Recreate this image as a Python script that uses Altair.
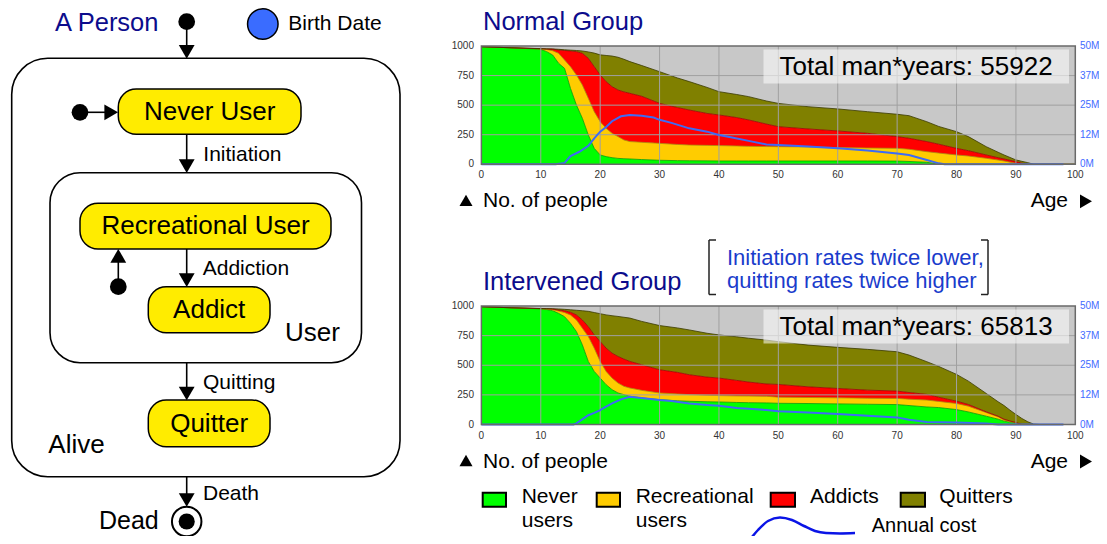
import altair as alt
import pandas as pd

OFF = 8          # page margin
W, H = 1091, 528
FONT = "Liberation Sans"

# ---------------- data ----------------
ages = [0, 5, 10, 11, 12, 13, 14, 15, 16, 17, 18, 19, 20, 21, 22, 23, 24, 25, 27, 30, 33, 35, 38, 40,
        43, 45, 48, 50, 55, 60, 65, 70, 72, 75, 77, 80, 82, 85, 87, 88, 89, 90, 91, 92, 93, 94, 100]

# Normal group: cumulative boundaries (number of people)
normal_never = [994, 985, 972, 952, 924, 854, 811, 642, 501, 389, 248, 135, 79, 65, 56, 50, 47, 45, 40, 34, 31, 30, 29, 28,
                28, 28, 28, 28, 28, 28, 28, 27, 24, 17, 0, 0, 0, 0, 0, 0, 0, 0, 0, 0, 0, 0, 0]
normal_rec_top = [994, 985, 975, 970, 960, 938, 882, 825, 755, 670, 558, 445, 360, 304, 262, 234, 206, 192, 186, 177, 168, 163, 160, 158,
                  155, 152, 150, 149, 147, 141, 138, 135, 127, 107, 95, 79, 70, 51, 36, 28, 18, 8, 0, 0, 0, 0, 0]
normal_addict_top = [994, 985, 977, 975, 974, 966, 962, 958, 952, 938, 896, 825, 755, 699, 656, 628, 612, 600, 575, 515, 480, 459, 430, 417,
                     395, 375, 340, 318, 299, 282, 262, 234, 220, 192, 170, 135, 115, 79, 56, 45, 34, 23, 10, 0, 0, 0, 0]
normal_alive = [994, 985, 978, 976, 975, 972, 968, 965, 962, 958, 950, 940, 925, 920, 915, 905, 888, 868, 835, 783, 730, 699, 650, 614,
                590, 572, 535, 515, 487, 468, 445, 423, 411, 360, 320, 276, 234, 149, 102, 79, 58, 37, 25, 14, 0, 0, 0]

# Intervened group
interv_never = [994, 985, 975, 970, 960, 938, 910, 854, 784, 672, 532, 448, 392, 336, 294, 266, 252, 238, 224, 210, 200, 196, 192, 190,
                186, 184, 182, 179, 177, 174, 171, 168, 160, 148, 143, 126, 106, 70, 45, 28, 20, 14, 0, 0, 0, 0, 0]
interv_rec_top = [994, 985, 977, 974, 968, 958, 945, 924, 882, 812, 742, 644, 532, 448, 392, 350, 322, 308, 288, 266, 258, 252, 247, 244,
                  241, 240, 238, 231, 228, 225, 222, 220, 214, 206, 195, 177, 155, 101, 65, 37, 25, 14, 0, 0, 0, 0, 0]
interv_addict_top = [994, 985, 978, 977, 975, 966, 960, 947, 924, 882, 826, 756, 700, 644, 602, 574, 552, 532, 504, 462, 440, 420, 400, 392,
                     372, 358, 342, 338, 318, 304, 290, 282, 270, 254, 230, 197, 169, 107, 70, 45, 30, 17, 0, 0, 0, 0, 0]
interv_alive = [994, 985, 979, 978, 977, 975, 972, 968, 964, 960, 955, 945, 935, 925, 918, 912, 905, 898, 870, 835, 815, 798, 770, 756,
                740, 728, 712, 699, 670, 651, 634, 614, 586, 530, 490, 423, 366, 262, 192, 160, 121, 85, 51, 23, 3, 0, 0]

# Annual cost (millions)
cost_ages_normal = [0, 12.5, 14, 15, 16.5, 18, 19, 20, 21, 22, 23.5, 25, 27, 29, 30, 32, 35, 38, 40, 42, 45, 48,
                    50, 55, 60, 65, 70, 72, 75, 77, 78, 98]
cost_normal = [0, 0, 0.6, 3.5, 5.3, 7.8, 11.0, 13.8, 15.8, 18.2, 20.3, 20.8, 20.5, 19.8, 18.8, 17.5, 15.2, 13.8, 12.4, 11.4, 9.9, 8.4,
               8.2, 7.5, 6.8, 5.8, 4.6, 3.9, 1.8, 0.4, 0, 0]
cost_ages_interv = [0, 15.5, 16, 18, 19, 20, 21, 22, 23.5, 25, 27, 30, 32, 35, 38, 40, 43, 48, 50, 55, 60, 65, 70, 72, 75,
                    80, 85, 87, 98]
cost_interv = [0, 0, 0.5, 3.9, 4.9, 6.1, 7.5, 8.9, 10.6, 11.7, 11.2, 10.3, 9.9, 8.9, 8.2, 7.9, 7.0, 6.1, 5.6, 5.1, 4.4, 3.7, 3.0, 2.0, 1.1,
               0.8, 0.4, 0, 0]

categories = ["Never users", "Recreational users", "Addicts", "Quitters"]
cat_colors = ["#00ff00", "#ffcc00", "#ff0000", "#808000"]
edge_colors = ["#00a000", "#b08a00", "#a00000", "#3a3a00"]
people_ticks = [0, 250, 500, 750, 1000]
cost_tick_labels = ["0M", "12M", "25M", "37M", "50M"]
age_ticks = [0, 10, 20, 30, 40, 50, 60, 70, 80, 90, 100]
grid_ages = [10, 20, 30, 40, 50, 60, 70, 80, 90]
grid_people = [250, 500, 750]
group_titles = ["Normal Group", "Intervened Group"]
totals = [55922, 65813]

NAVY = "#0c0c8c"
BLUE_LBL = "#3f6bff"
COST_BLUE = "#3d6bf5"


def P(v):
    return v - OFF


# ---------------- helpers ----------------
def text_layer(rows, align="left", baseline="middle"):
    df = pd.DataFrame(rows, columns=["x", "y", "text", "fs", "col"])
    df["x"] = df["x"] - OFF
    df["y"] = df["y"] - OFF
    return alt.Chart(df).mark_text(align=align, baseline=baseline, font=FONT).encode(
        x=alt.X("x:Q", scale=None, axis=None),
        y=alt.Y("y:Q", scale=None, axis=None),
        text="text:N",
        size=alt.Size("fs:Q", scale=None, legend=None),
        color=alt.Color("col:N", scale=None, legend=None),
    )


def rect_layer(rows, **mark):
    df = pd.DataFrame(rows, columns=["x", "x2", "y", "y2"]) - OFF
    return alt.Chart(df).mark_rect(**mark).encode(
        x=alt.X("x:Q", scale=None, axis=None), x2="x2:Q",
        y=alt.Y("y:Q", scale=None, axis=None), y2="y2:Q",
    )


def seg_layer(rows, color="black", width=1.6):
    df = pd.DataFrame(rows, columns=["x", "y", "x2", "y2"]) - OFF
    return alt.Chart(df).mark_rule(color=color, strokeWidth=width).encode(
        x=alt.X("x:Q", scale=None, axis=None), x2="x2:Q",
        y=alt.Y("y:Q", scale=None, axis=None), y2="y2:Q",
    )


def pt_layer(rows, shape, size, fill, stroke=None, sw=0.0):
    df = pd.DataFrame(rows, columns=["x", "y"]) - OFF
    kw = dict(shape=shape, size=size, filled=True, fill=fill, opacity=1, fillOpacity=1)
    if stroke:
        kw.update(stroke=stroke, strokeWidth=sw)
    else:
        kw.update(strokeWidth=0)
    return alt.Chart(df).mark_point(**kw).encode(
        x=alt.X("x:Q", scale=None, axis=None),
        y=alt.Y("y:Q", scale=None, axis=None),
    )


X0, X1 = 481.4, 1075.3


def xscale():
    return alt.Scale(domain=[0, 100], range=[P(X0), P(X1)], nice=False, zero=False)


def yscale(top, bot, dom=(0, 1000)):
    return alt.Scale(domain=list(dom), range=[P(bot), P(top)], nice=False, zero=False)


def panel(idx, top, bot, tops, c_ages, c_vals):
    layers = []
    one = pd.DataFrame({"a": [0]})
    # background
    layers.append(alt.Chart(one).mark_rect(fill="#c8c8c8").encode(
        x=alt.value(P(X0)), x2=alt.value(P(X1)), y=alt.value(P(top)), y2=alt.value(P(bot))))
    # stacked bands
    rows = []
    lo = [0] * len(ages)
    for cat, col, edge, t in zip(categories, cat_colors, edge_colors, tops):
        for a, l, h in zip(ages, lo, t):
            rows.append(dict(age=a, lo=l, hi=h, cat=cat, fill=col, edge=edge))
        lo = t
    bdf = pd.DataFrame(rows)
    layers.append(alt.Chart(bdf).mark_area(interpolate="linear").encode(
        x=alt.X("age:Q", scale=xscale(), axis=None),
        y=alt.Y("hi:Q", scale=yscale(top, bot), axis=None, stack=None),
        y2="lo:Q",
        color=alt.Color("fill:N", scale=None, legend=None),
        detail="cat:N",
    ))
    layers.append(alt.Chart(bdf).mark_line(strokeWidth=1, opacity=0.8).encode(
        x=alt.X("age:Q", scale=xscale(), axis=None),
        y=alt.Y("hi:Q", scale=yscale(top, bot), axis=None),
        color=alt.Color("edge:N", scale=None, legend=None),
        detail="cat:N",
    ))
    # grid
    layers.append(alt.Chart(pd.DataFrame({"age": grid_ages})).mark_rule(
        color="#a0a0a0", strokeWidth=1).encode(
        x=alt.X("age:Q", scale=xscale(), axis=None),
        y=alt.value(P(top)), y2=alt.value(P(bot))))
    layers.append(alt.Chart(pd.DataFrame({"v": grid_people})).mark_rule(
        color="#a0a0a0", strokeWidth=1).encode(
        y=alt.Y("v:Q", scale=yscale(top, bot), axis=None),
        x=alt.value(P(X0)), x2=alt.value(P(X1))))
    # cost line
    layers.append(alt.Chart(pd.DataFrame({"age": c_ages, "cost": c_vals})).mark_line(
        color=COST_BLUE, strokeWidth=2).encode(
        x=alt.X("age:Q", scale=xscale(), axis=None),
        y=alt.Y("cost:Q", scale=yscale(top, bot, (0, 50)), axis=None)))
    # border
    layers.append(alt.Chart(one).mark_rect(fill=None, stroke="#6a6a6a", strokeWidth=1.5).encode(
        x=alt.value(P(X0)), x2=alt.value(P(X1)), y=alt.value(P(top)), y2=alt.value(P(bot))))
    # total box
    layers.append(alt.Chart(one).mark_rect(fill="#ffffff", opacity=0.55).encode(
        x=alt.value(P(763.5)), x2=alt.value(P(1069)), y=alt.value(P(top + 3.5)), y2=alt.value(P(top + 37.5))))
    layers.append(alt.Chart(pd.DataFrame({"t": [f"Total man*years: {totals[idx]}"]})).mark_text(
        font=FONT, fontSize=26, color="black", align="center", baseline="middle").encode(
        text="t:N", x=alt.value(P(916)), y=alt.value(P(top + 21))))
    # tick labels
    layers.append(alt.Chart(pd.DataFrame({"v": people_ticks})).mark_text(
        font=FONT, fontSize=10, color="#333333", align="right", baseline="middle").encode(
        y=alt.Y("v:Q", scale=yscale(top, bot), axis=None), text="v:N", x=alt.value(P(474))))
    layers.append(alt.Chart(pd.DataFrame({"v": people_ticks, "lbl": cost_tick_labels})).mark_text(
        font=FONT, fontSize=10, color=BLUE_LBL, align="left", baseline="middle").encode(
        y=alt.Y("v:Q", scale=yscale(top, bot), axis=None), text="lbl:N", x=alt.value(P(1080))))
    layers.append(alt.Chart(pd.DataFrame({"age": age_ticks})).mark_text(
        font=FONT, fontSize=10, color="#333333", align="center", baseline="middle").encode(
        x=alt.X("age:Q", scale=xscale(), axis=None), text="age:N", y=alt.value(P(bot + 11))))
    # captions
    cap_y = bot + 37
    layers.append(text_layer([
        (483, top - 24, group_titles[idx], 25.5, NAVY),
        (483, cap_y, "No. of people", 21, "black"),
    ]))
    layers.append(text_layer([(1068, cap_y, "Age", 21, "black")], align="right"))
    layers.append(pt_layer([(466, cap_y - 1)], "triangle-up", 170, "black"))
    layers.append(pt_layer([(1086, cap_y)], "triangle-right", 190, "black"))
    return layers


layers = []

# ---------------- state diagram ----------------
DX = 186.7
DEAD_Y = 521.5
layers.append(rect_layer([(11.7, 400, 58.3, 476.7)], cornerRadius=36, fill="white",
                         stroke="black", strokeWidth=1.6))
layers.append(rect_layer([(50, 361.5, 172.7, 362.7)], cornerRadius=30, fill="white",
                         stroke="black", strokeWidth=1.6))
layers.append(rect_layer([
    (118.3, 301, 89, 134.3),
    (80, 331, 203.3, 249),
    (148.3, 270, 286.7, 332.7),
    (148.3, 270, 400, 446.7),
], cornerRadius=18, fill="#ffec00", stroke="black", strokeWidth=1.5))

layers.append(seg_layer([
    (DX, 21.7, DX, 50),
    (DX, 134.3, DX, 165),
    (DX, 249, DX, 279),
    (DX, 362.7, DX, 392),
    (DX, 476.7, DX, 498),
    (80, 112.3, 110, 112.3),
    (118.3, 286.7, 118.3, 257),
]))
layers.append(pt_layer([(DX, 51.8), (DX, 166.2), (DX, 280.2), (DX, 393.5), (DX, 500)],
                       "triangle-down", 250, "black"))
layers.append(pt_layer([(111.2, 112.3)], "triangle-right", 250, "black"))
layers.append(pt_layer([(118.3, 255.8)], "triangle-up", 250, "black"))
layers.append(pt_layer([(DX, 21.7), (80, 112.3), (118.3, 286.7)], "circle", 280, "black"))
layers.append(pt_layer([(262.8, 24)], "circle", 930, "#3a6cff", "black", 1.5))
layers.append(pt_layer([(DX, DEAD_Y)], "circle", 870, "white", "black", 2))
layers.append(pt_layer([(DX, DEAD_Y)], "circle", 260, "black"))

layers.append(text_layer([
    (209.7, 112.3, "Never User", 26, "black"),
    (205.6, 226, "Recreational User", 26, "black"),
    (209.2, 310, "Addict", 26, "black"),
    (209.2, 423.5, "Quitter", 26, "black"),
], align="center"))
layers.append(text_layer([
    (55, 23, "A Person", 25.5, NAVY),
    (288.3, 24, "Birth Date", 21, "black"),
    (203.3, 155, "Initiation", 21, "black"),
    (202.7, 269.3, "Addiction", 21, "black"),
    (203, 383.3, "Quitting", 21, "black"),
    (203, 493.5, "Death", 21, "black"),
    (285, 333.3, "User", 26, "black"),
    (48.3, 445, "Alive", 26, "black"),
    (99, 521, "Dead", 25, "black"),
]))

# ---------------- charts ----------------
layers += panel(0, 46, 164.3, [normal_never, normal_rec_top, normal_addict_top, normal_alive],
                cost_ages_normal, cost_normal)
layers += panel(1, 306, 424.5, [interv_never, interv_rec_top, interv_addict_top, interv_alive],
                cost_ages_interv, cost_interv)

# bracket note
layers.append(seg_layer([
    (709, 240, 709, 294.5), (709, 240, 716, 240), (709, 294.5, 716, 294.5),
    (988, 240, 988, 294.5), (981, 240, 988, 240), (981, 294.5, 988, 294.5),
], color="#222222", width=1.5))
layers.append(text_layer([
    (727, 258, "Initiation rates twice lower,", 22, "#1a3ccc"),
    (727, 281, "quitting rates twice higher", 22, "#1a3ccc"),
]))

# ---------------- legend ----------------
layers.append(alt.Chart(pd.DataFrame({
    "x": [P(482.7), P(596.7), P(770.7), P(900.7)],
    "x2": [P(506), P(620), P(795), P(925)],
    "fill": cat_colors,
})).mark_rect(stroke="black", strokeWidth=2).encode(
    x=alt.X("x:Q", scale=None, axis=None), x2="x2:Q",
    y=alt.value(P(492.7)), y2=alt.value(P(506.7)),
    color=alt.Color("fill:N", scale=None, legend=None)))
layers.append(text_layer([
    (521.7, 497, "Never", 21, "black"),
    (521.7, 521, "users", 21, "black"),
    (635.7, 497, "Recreational", 21, "black"),
    (635.7, 521, "users", 21, "black"),
    (810, 497, "Addicts", 21, "black"),
    (939.3, 497, "Quitters", 21, "black"),
    (871.7, 525.5, "Annual cost", 20, "black"),
]))
curve = pd.DataFrame({
    "x": [748, 758, 768, 780, 792, 804, 815, 826, 840, 855],
    "y": [542, 530, 521, 517.5, 520, 526, 531, 533, 533.4, 533],
}) - OFF
layers.append(alt.Chart(curve).mark_line(color="#0a14e6", strokeWidth=2.5, interpolate="monotone").encode(
    x=alt.X("x:Q", scale=None, axis=None), y=alt.Y("y:Q", scale=None, axis=None)))

chart = alt.layer(*layers).resolve_scale(
    x="independent", y="independent", color="independent", size="independent"
).properties(
    width=W, height=H, autosize=alt.AutoSizeParams(type="none"), padding=0,
    background="white"
).configure_view(stroke=None)

chart.save("out.html", embed_options={"renderer": "svg", "actions": False})
